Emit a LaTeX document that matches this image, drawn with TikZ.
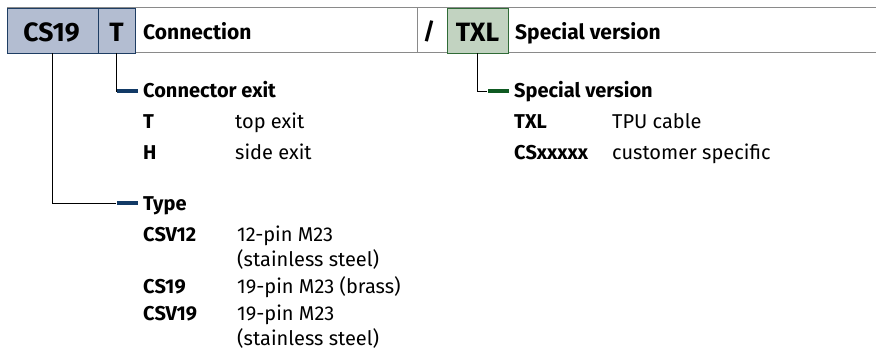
\documentclass[tikz,border=0pt]{standalone}
\usepackage{fontspec}
\setmainfont{Fira Sans}
\definecolor{bfill}{HTML}{B3BDD1}
\definecolor{bline}{HTML}{1E3D63}
\definecolor{bbar}{HTML}{123A66}
\definecolor{gfill}{HTML}{C2D3C1}
\definecolor{gline}{HTML}{2F6B36}
\definecolor{gbar}{HTML}{0F5A22}
\definecolor{rule}{HTML}{8A8A8A}
\begin{document}
\begin{tikzpicture}[x=1pt,y=-1pt,
  hbox/.style={draw=#1, line width=0.9pt, minimum height=45pt, inner sep=0pt},
  boxtext/.style={anchor=base, inner sep=0pt, font=\bfseries\fontsize{26.5}{26.5}\selectfont},
  htext/.style={anchor=base west, inner sep=0pt, font=\bfseries\fontsize{21}{21}\selectfont},
  head/.style={anchor=base west, inner sep=0pt, font=\bfseries\fontsize{20}{20}\selectfont},
  key/.style={anchor=base west, inner sep=0pt, font=\bfseries\fontsize{20}{20}\selectfont},
  desc/.style={anchor=base west, inner sep=0pt, font=\fontsize{20}{20}\selectfont},
  tbar/.style={fill=#1, minimum width=21pt, minimum height=4pt, inner sep=0pt},
  conn/.style={draw=black, line width=0.7pt}
]
\useasboundingbox (0,0) rectangle (876,352);
% header bar rules
\draw[rule, line width=1pt] (7,8) -- (876,8);
\draw[rule, line width=1pt] (7,53) -- (876,53);
\draw[rule, line width=1pt] (417,8) -- (417,53);
% code boxes
\node[hbox=bline, fill=bfill, minimum width=91pt] (cs) at (52.5,30.5) {};
\node[hbox=bline, fill=bfill, minimum width=37pt] (tb) at (116.5,30.5) {};
\node[hbox=gline, fill=gfill, minimum width=61pt] (txl) at (477.5,30.5) {};
\node[boxtext] (cst) at (51.5,41.5) {CS19};
\node[boxtext] (tbt) at (116.5,41.5) {T};
\node[boxtext] (txlt) at (477.5,41.5) {TXL};
\node[htext] (hconn) at (143,39.5) {Connection};
\node[htext, anchor=base, font=\bfseries\fontsize{23}{23}\selectfont] (slash) at (429,40) {/};
\node[htext] (hspec) at (515,39.5) {Special version};
% Connector exit
\node[tbar=bbar] (cebar) at (127,91) {};
\node[head] (ceh) at (143,98) {Connector exit};
\node[key] (k1) at (143,129) {T};
\node[desc] (d1) at (235,129) {top exit};
\node[key] (k2) at (143,160) {H};
\node[desc] (d2) at (235,160) {side exit};
\draw[conn] (tb.south) |- (cebar.west);
% Special version
\node[tbar=gbar] (svbar) at (498,91) {};
\node[head] (svh) at (514,98) {Special version};
\node[key] (k3) at (514,129) {TXL};
\node[desc] (d3) at (612,129) {TPU cable};
\node[key] (k4) at (514,160) {CSxxxxx};
\node[desc] (d4) at (612,160) {customer specific};
\draw[conn] (txl.south) |- (svbar.west);
% Type
\node[tbar=bbar] (tybar) at (127,203.5) {};
\node[head] (tyh) at (143,211) {Type};
\node[key] (k5) at (143,241.5) {CSV12};
\node[desc] (d5) at (237,241.5) {12-pin M23};
\node[desc] (d5b) at (237,267) {(stainless steel)};
\node[key] (k6) at (143,294) {CS19};
\node[desc] (d6) at (237,294) {19-pin M23 (brass)};
\node[key] (k7) at (143,321) {CSV19};
\node[desc] (d7) at (237,321) {19-pin M23};
\node[desc] (d7b) at (237,345.5) {(stainless steel)};
\draw[conn] (cs.south) |- (tybar.west);
\end{tikzpicture}
\end{document}
